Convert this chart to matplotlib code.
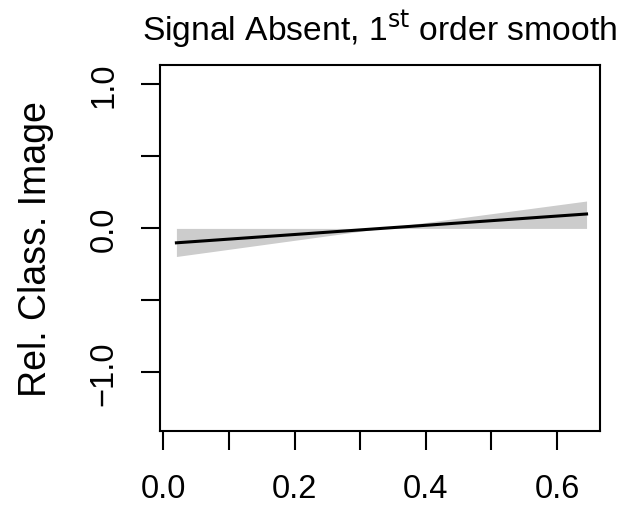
import matplotlib
matplotlib.use('Agg')
import matplotlib.pyplot as plt

# smoothed relative classification image, signal absent
xvals  = [0.02, 0.3325, 0.645]
smooth = [-0.10, 0.0, 0.10]
lower  = [-0.195, 0.0, 0.0]
upper  = [0.0, 0.0, 0.19]

xticks  = [0.0, 0.1, 0.2, 0.3, 0.4, 0.5, 0.6]
xlabels = ['0.0', '', '0.2', '', '0.4', '', '0.6']
yticks  = [-1.0, -0.5, 0.0, 0.5, 1.0]
ylabels = ['\u22121.0', '', '0.0', '', '1.0']

plt.rcParams['font.family'] = ['Liberation Sans', 'DejaVu Sans']

fig = plt.figure(figsize=(6.28, 5.10), dpi=100)
ax  = fig.add_axes([160/628, 1 - 432/510, 440/628, 366/510])

ax.fill_between(xvals, lower, upper, color='#cccccc', lw=0)
ax.plot(xvals, smooth, color='black', lw=2.2)

ax.set_xlim(-0.005, 0.6655)
ax.set_ylim(-1.406, 1.134)

ax.set_xticks(xticks)
ax.set_xticklabels(xlabels, fontsize=23.5)
ax.set_yticks(yticks)
ax.set_yticklabels(ylabels, fontsize=23.5, rotation=90, va='center')
ax.tick_params(length=14, width=1.5, pad=16, direction='out')
ax.tick_params(axis='y', pad=15)
for s in ax.spines.values():
   s.set_linewidth(1.5)

ax.set_ylabel('Rel. Class. Image', fontsize=27, labelpad=25)
ax.set_title('Signal Absent, 1$^{\\mathrm{st}}$ order smooth', fontsize=24.2, pad=18)

fig.savefig('out.png', dpi=100)
